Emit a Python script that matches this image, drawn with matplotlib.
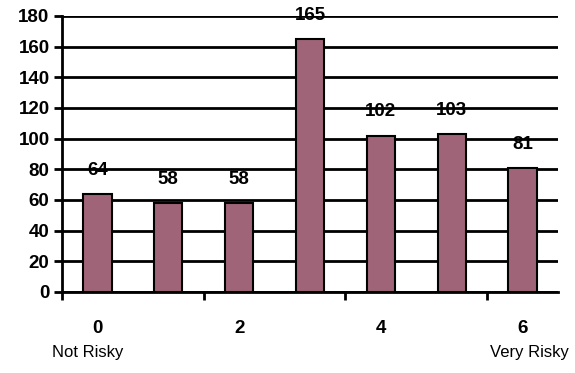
import matplotlib.pyplot as plt

categories = [0, 1, 2, 3, 4, 5, 6]
counts = [64, 58, 58, 165, 102, 103, 81]
label_ticks = [0, 2, 4, 6]
y_ticks = list(range(0, 181, 20))

plt.rcParams['font.family'] = ['Liberation Sans', 'DejaVu Sans']

fig = plt.figure(figsize=(5.75, 3.73), dpi=100)
ax = fig.add_axes([62 / 575, 1 - 292 / 373, (558 - 62) / 575, (292 - 16) / 373])

ax.set_axisbelow(True)
ax.bar(categories, counts, width=0.4, color='#A06478', edgecolor='black', linewidth=1.5, zorder=3)

for x, v in zip(categories, counts):
    ax.annotate(str(v), (x, v), xytext=(0, 17), textcoords='offset points',
                ha='center', va='center', fontsize=13.5, fontweight='bold')

ax.set_xlim(-0.5, 6.5)
ax.set_ylim(0, 180)
ax.set_yticks(y_ticks)
ax.set_yticklabels([str(t) for t in y_ticks], fontsize=13.5, fontweight='bold')
ax.tick_params(axis='y', length=6, width=2, pad=3)
ax.yaxis.grid(True, color='black', linewidth=2)

# tick marks sit between category groups, labels under the categories
ax.set_xticks([-0.5, 1.5, 3.5, 5.5])
ax.set_xticklabels([])
ax.tick_params(axis='x', which='major', length=6, width=2)
ax.set_xticks(label_ticks, minor=True)
ax.set_xticklabels([str(t) for t in label_ticks], minor=True, fontsize=13.5, fontweight='bold')
ax.tick_params(axis='x', which='minor', length=0, pad=20)

for s in ['top', 'right']:
    ax.spines[s].set_visible(False)
for s in ['left', 'bottom']:
    ax.spines[s].set_linewidth(2)

fig.text(52 / 575, 1 - 352 / 373, 'Not Risky', fontsize=12, ha='left', va='center')
fig.text(569 / 575, 1 - 352 / 373, 'Very Risky', fontsize=12, ha='right', va='center')

fig.savefig('out.png', dpi=100)
